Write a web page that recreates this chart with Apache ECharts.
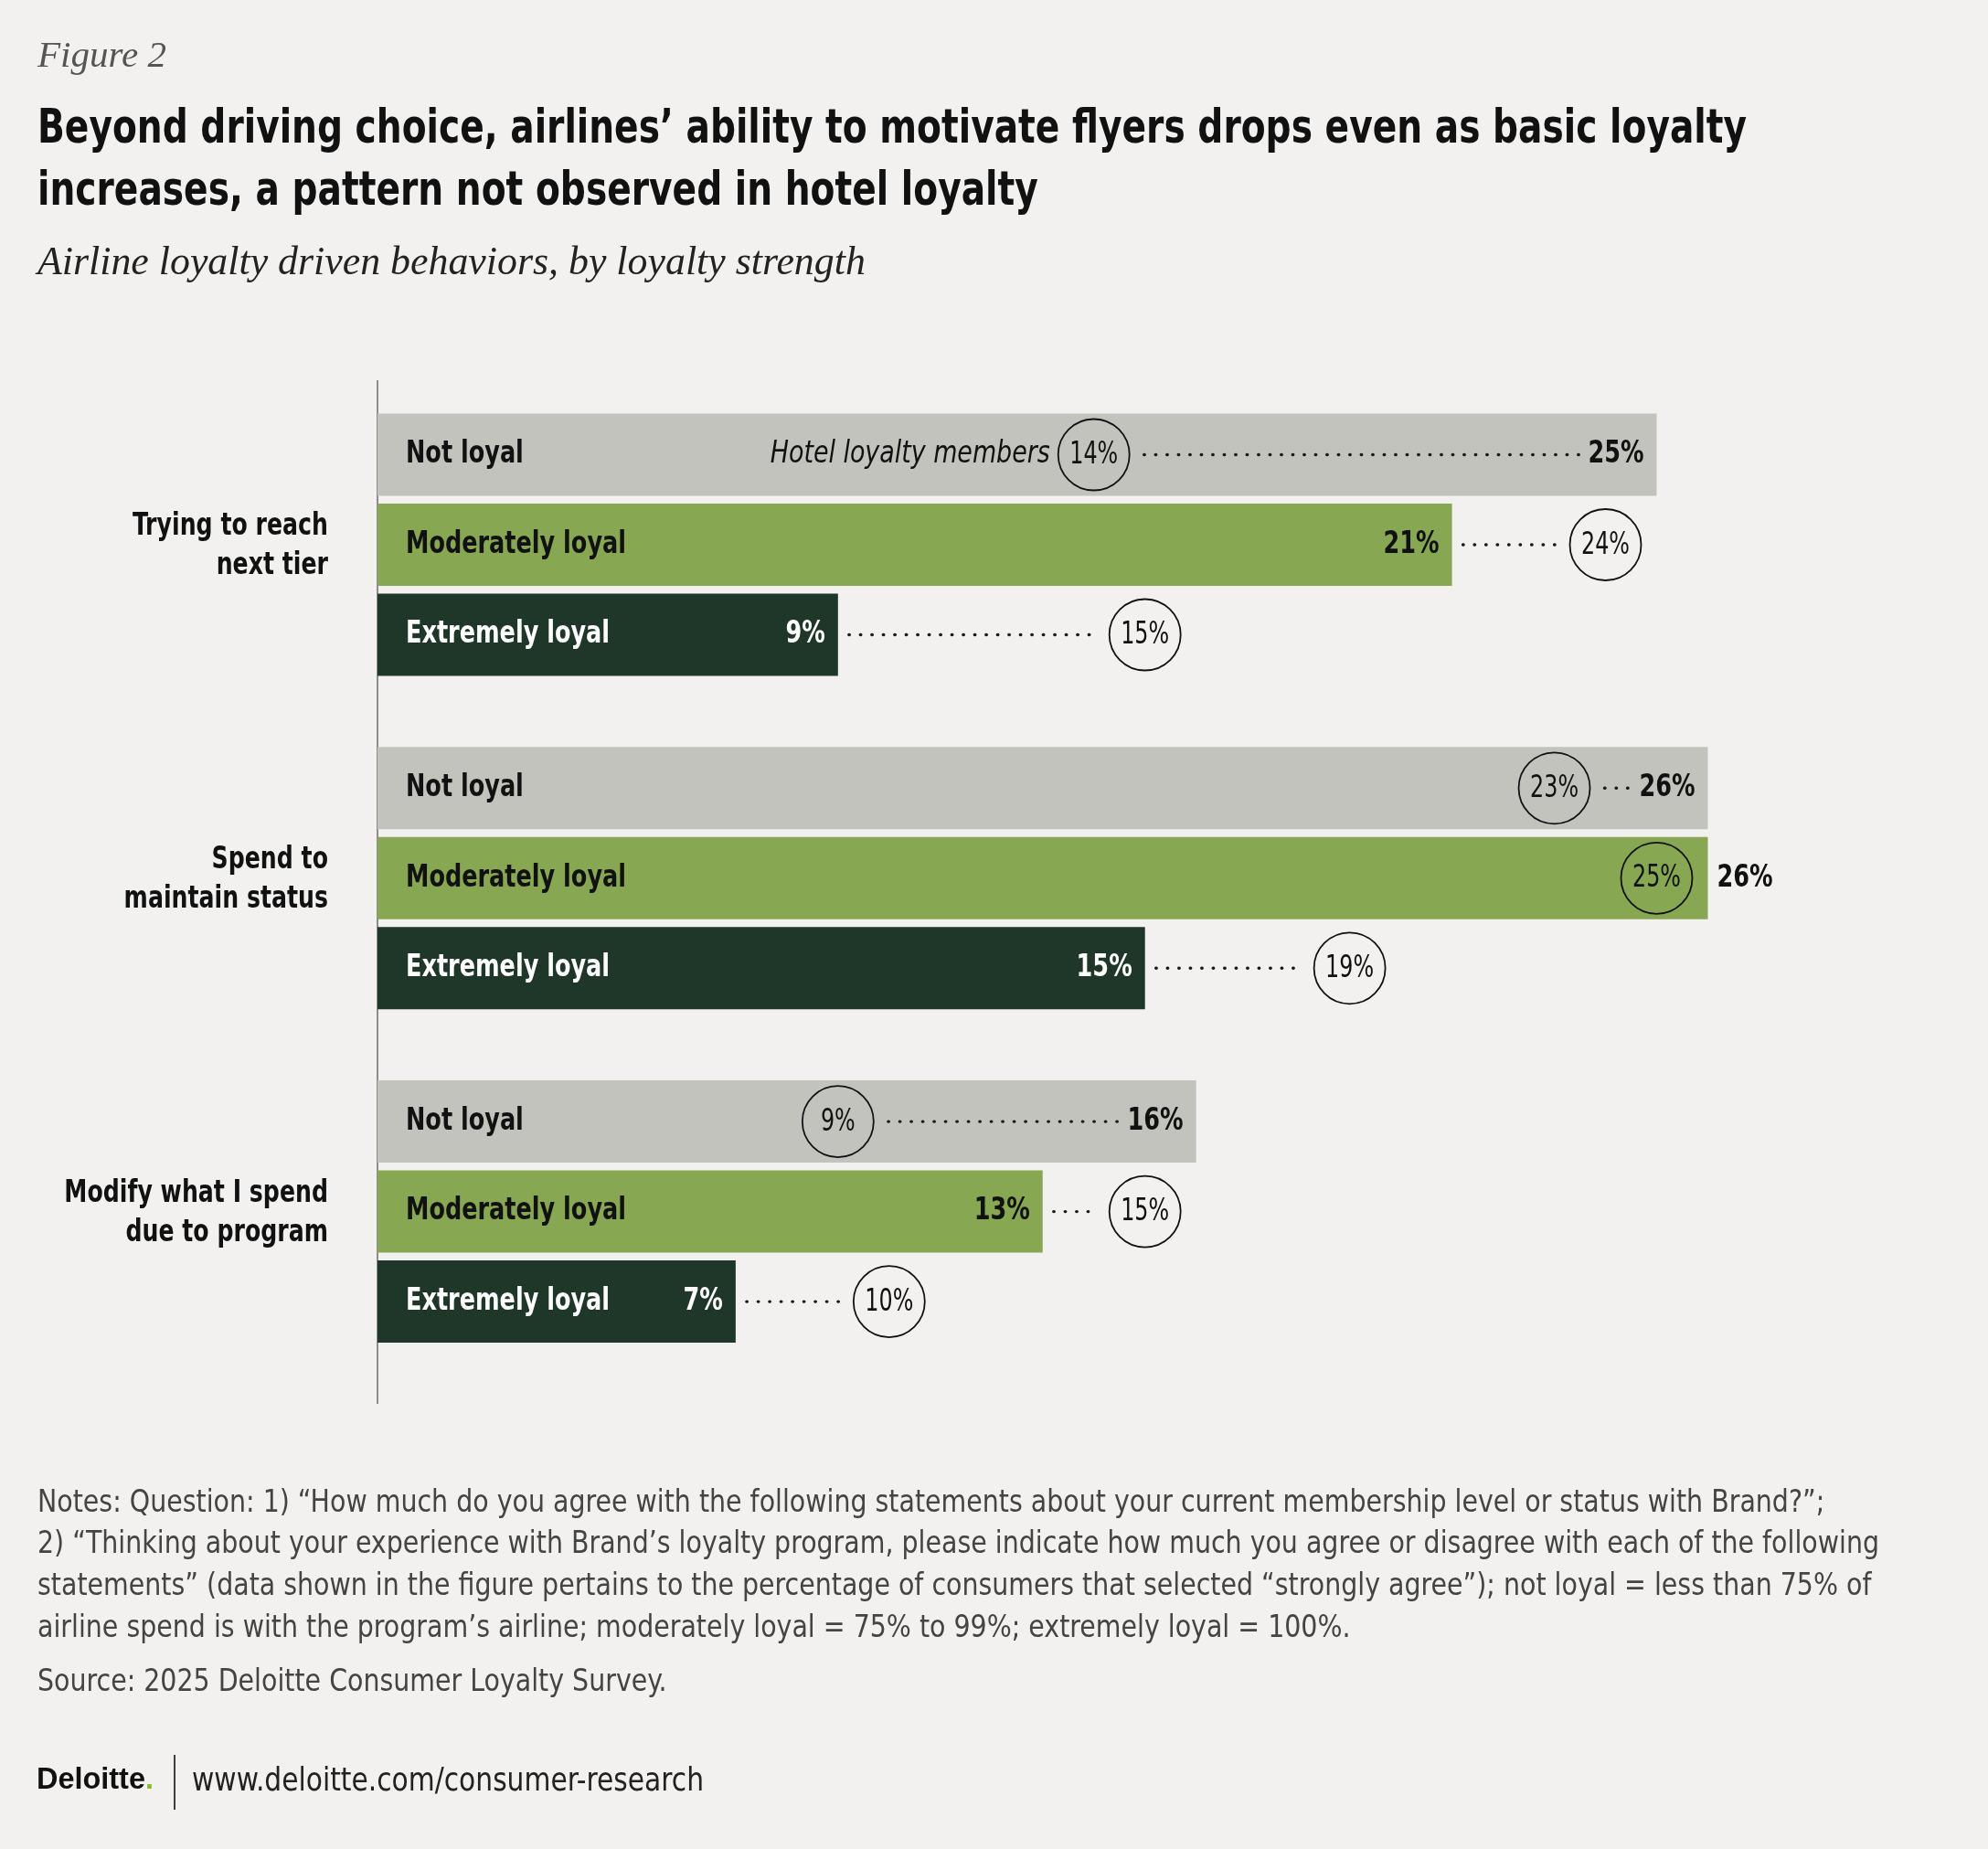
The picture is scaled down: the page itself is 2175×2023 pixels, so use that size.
<!DOCTYPE html>
<html><head><meta charset="utf-8">
<script src="https://cdn.jsdelivr.net/npm/echarts@6/dist/echarts.min.js"></script>
<style>html,body{margin:0;padding:0;background:#f2f1ef;}#c{width:2175px;height:2023px;}</style>
</head><body><div id="c"></div>
<script>
// ---------- DATA ----------
const categories = ['Trying to reach\nnext tier', 'Spend to\nmaintain status', 'Modify what I spend\ndue to program'];
const segmentNames = ['Not loyal', 'Moderately loyal', 'Extremely loyal'];
const airlineNotLoyal = [25, 26, 16];
const airlineModerately = [21, 26, 13];
const airlineExtremely = [9, 15, 7];
const hotelNotLoyal = [14, 23, 9];
const hotelModerately = [24, 25, 15];
const hotelExtremely = [15, 19, 10];
const hotelLabel = 'Hotel loyalty members';
const figureLabel = 'Figure 2';
const titleLines = ['Beyond driving choice, airlines\u2019 ability to motivate flyers drops even as basic loyalty', 'increases, a pattern not observed in hotel loyalty'];
const subtitle = 'Airline loyalty driven behaviors, by loyalty strength';
const notesLines = [
  'Notes: Question: 1) \u201CHow much do you agree with the following statements about your current membership level or status with Brand?\u201D;',
  '2) \u201CThinking about your experience with Brand\u2019s loyalty program, please indicate how much you agree or disagree with each of the following',
  'statements\u201D (data shown in the figure pertains to the percentage of consumers that selected \u201Cstrongly agree\u201D); not loyal = less than 75% of',
  'airline spend is with the program\u2019s airline; moderately loyal = 75% to 99%; extremely loyal = 100%.'
];
const sourceText = 'Source: 2025 Deloitte Consumer Loyalty Survey.';
const brandText = 'Deloitte';
const urlText = 'www.deloitte.com/consumer-research';

// ---------- FONTS ----------
const mctx = document.createElement('canvas').getContext('2d');
function hasFont(name) {
  const t = 'mmmmmmmmmmlliWWabcxyz0123456789';
  mctx.font = '50px monospace'; const a = mctx.measureText(t).width;
  mctx.font = '50px "' + name + '", monospace'; const b = mctx.measureText(t).width;
  mctx.font = '50px serif'; const c = mctx.measureText(t).width;
  mctx.font = '50px "' + name + '", serif'; const d = mctx.measureText(t).width;
  return a !== b || c !== d;
}
const NARROW = hasFont('Liberation Sans Narrow') ? 'Liberation Sans Narrow' : (hasFont('DejaVu Sans Condensed') ? 'DejaVu Sans Condensed' : 'Roboto');
const SERIF = hasFont('Liberation Serif') ? 'Liberation Serif' : 'DejaVu Serif';
const SANS = hasFont('Liberation Sans') ? 'Liberation Sans' : 'DejaVu Sans';
const CAP = 0.73; // cap-height ratio of the sans fonts
function textW(text, style, weight, size, family) {
  mctx.font = style + ' ' + weight + ' ' + size + 'px "' + family + '"';
  return mctx.measureText(text).width;
}
function fit(text, style, weight, family, target) {
  return 100 * target / textW(text, style, weight, 100, family);
}
// font size from wanted cap height, horizontal squeeze from wanted width
function squeeze(text, style, weight, family, capH, width) {
  const size = capH / CAP;
  const w = textW(text, style, weight, size, family);
  return { size: size, sx: Math.min(1, width / w) };
}
const figSize = fit(figureLabel, 'italic', 'normal', SERIF, 141);
const titleFit = squeeze(titleLines[0], 'normal', 'bold', NARROW, 38, 1870);
const subSize = fit(subtitle, 'italic', 'normal', SERIF, 906);
const catFit = squeeze('Trying to reach', 'normal', 'bold', NARROW, 24.5, 214);
const segFit = squeeze('Moderately loyal', 'normal', 'bold', NARROW, 25, 241);
const circFit = squeeze('23%', 'normal', 'normal', NARROW, 24, 53);
const hotelFit = squeeze(hotelLabel, 'italic', 'normal', NARROW, 25, 306);
const notesFit = squeeze(notesLines[1], 'normal', 'normal', NARROW, 24.5, 2015);
const brandSize = fit('Deloitte.', 'normal', 'bold', SANS, 128);
const urlFit = squeeze(urlText, 'normal', 'normal', NARROW, 26, 560);

// ---------- LAYOUT ----------
const GRID_LEFT = 413, GRID_TOP = 413.6, GRID_H = 1094.4, X_MAX = 30, PX_PER = 55.98;
const GRID_W = X_MAX * PX_PER;
const BAR_W = 90, BAR_GAP = 8.5;
const R = 39, DOT_GAP_CIRCLE = 16, DOT_GAP_BAR = 12, DOT_GAP_LABEL = 10, LABEL_DIST = 14, CAT_MARGIN = 54;
const barColors = ['#c3c3bd', '#87a752', '#1e3728'];
const textColors = ['#111111', '#111111', '#ffffff'];
const airline = [airlineNotLoyal, airlineModerately, airlineExtremely];
const hotel = [hotelNotLoyal, hotelModerately, hotelExtremely];

function barSeries(seg) {
  return {
    type: 'bar', name: segmentNames[seg], z: 2,
    barWidth: BAR_W, barGap: (BAR_GAP / BAR_W * 100) + '%',
    itemStyle: { color: barColors[seg] },
    label: { show: false },
    data: airline[seg]
  };
}

function boldText(text, x, y, align, fill) {
  return { type: 'text', x: x, y: y, scaleX: segFit.sx,
    style: { text: text, x: 0, y: 0, align: align, verticalAlign: 'middle',
      fontFamily: NARROW, fontSize: segFit.size, fontWeight: 'bold', fill: fill } };
}

function customSeries(seg) {
  const off = (seg - 1) * (BAR_W + BAR_GAP);
  return {
    type: 'custom', name: 'Hotel ' + segmentNames[seg], z: 5, clip: false, silent: true,
    data: hotel[seg].map(function (h, i) { return [h, i, airline[seg][i]]; }),
    encode: { x: 0, y: 1 },
    renderItem: function (params, api) {
      const hv = api.value(0), ci = api.value(1), av = api.value(2);
      const p = api.coord([hv, ci]);
      const cx = p[0], cy = p[1] + off;
      const bx = api.coord([av, ci])[0];
      const x0 = api.coord([0, ci])[0];
      const lw = textW(av + '%', 'normal', 'bold', segFit.size, NARROW) * segFit.sx;
      const outside = hv <= av && (bx - cx) < R + lw + LABEL_DIST + 20;
      const children = [];
      let x1, x2;
      if (hv > av) { x1 = bx + DOT_GAP_BAR; x2 = cx - R - DOT_GAP_CIRCLE; }
      else { x1 = cx + R + DOT_GAP_CIRCLE; x2 = bx - LABEL_DIST - lw - DOT_GAP_LABEL; }
      if (!outside && x2 - x1 > 6) {
        children.push({ type: 'line', shape: { x1: x1, y1: cy, x2: x2, y2: cy },
          style: { stroke: '#1a1a1a', lineWidth: 3.4, lineDash: [0.5, 12], lineCap: 'round' } });
      }
      children.push({ type: 'circle', shape: { cx: cx, cy: cy, r: R },
        style: { fill: 'rgba(0,0,0,0)', stroke: '#111111', lineWidth: 1.8 } });
      children.push({ type: 'text', x: cx, y: cy + 1, scaleX: circFit.sx,
        style: { text: hv + '%', x: 0, y: 0, align: 'center', verticalAlign: 'middle',
          fontFamily: NARROW, fontSize: circFit.size, fontWeight: 'normal', fill: '#111111' } });
      // segment name inside bar
      children.push(boldText(segmentNames[seg], x0 + 31, cy, 'left', textColors[seg]));
      // airline value label
      if (outside) children.push(boldText(av + '%', bx + 10, cy, 'left', '#111111'));
      else children.push(boldText(av + '%', bx - LABEL_DIST, cy, 'right', textColors[seg]));
      // category label (drawn once per category, centred on the category band)
      if (seg === 1) {
        children.push({ type: 'text', x: x0 - CAT_MARGIN, y: p[1] + 2, scaleX: catFit.sx,
          style: { text: categories[ci], x: 0, y: 0, align: 'right', verticalAlign: 'middle', lineHeight: 43,
            fontFamily: NARROW, fontSize: catFit.size, fontWeight: 'bold', fill: '#111111' } });
      }
      if (seg === 0 && params.dataIndex === 0) {
        children.push({ type: 'text', x: cx - R - 9, y: cy, scaleX: hotelFit.sx,
          style: { text: hotelLabel, x: 0, y: 0, align: 'right', verticalAlign: 'middle',
            fontFamily: NARROW, fontSize: hotelFit.size, fontStyle: 'italic', fill: '#111111' } });
      }
      return { type: 'group', children: children };
    }
  };
}

function txt(text, x, y, size, family, opts, sx) {
  opts = opts || {};
  return { type: 'text', x: x, y: y, scaleX: sx || 1, silent: true, style: Object.assign({
    text: text, x: 0, y: 0, fontSize: size, fontFamily: family, fill: '#111', align: 'left', verticalAlign: 'middle'
  }, opts) };
}

const graphics = [
  txt(figureLabel, 41, 62, figSize, SERIF, { fontStyle: 'italic', fill: '#555555' }),
  txt(titleLines[0], 41, 142, titleFit.size, NARROW, { fontWeight: 'bold', fill: '#111111' }, titleFit.sx),
  txt(titleLines[1], 41, 210, titleFit.size, NARROW, { fontWeight: 'bold', fill: '#111111' }, titleFit.sx),
  txt(subtitle, 41, 288, subSize, SERIF, { fontStyle: 'italic', fill: '#222222' }),
  { type: 'line', silent: true, shape: { x1: 413, y1: 416, x2: 413, y2: 1536 }, style: { stroke: '#8c8c8c', lineWidth: 2 } },
  txt(sourceText, 41, 1841, notesFit.size, NARROW, { fill: '#444444' }, notesFit.sx),
  { type: 'text', x: 40, y: 1948, silent: true, style: { text: '{b|' + brandText + '}{d|.}', verticalAlign: 'middle', align: 'left',
      rich: { b: { fontFamily: SANS, fontWeight: 'bold', fontSize: brandSize, fill: '#111111' }, d: { fontFamily: SANS, fontWeight: 'bold', fontSize: brandSize, fill: '#86bc25' } } } },
  { type: 'line', silent: true, shape: { x1: 191, y1: 1920, x2: 191, y2: 1980 }, style: { stroke: '#111111', lineWidth: 1.6 } },
  txt(urlText, 210, 1950, urlFit.size, NARROW, { fill: '#222222' }, urlFit.sx)
];
notesLines.forEach(function (l, i) {
  graphics.push(txt(l, 41, 1645 + i * 45.7, notesFit.size, NARROW, { fill: '#444444' }, notesFit.sx));
});

const chart = echarts.init(document.getElementById('c'), null, { renderer: 'canvas' });
chart.setOption({
  backgroundColor: '#f2f1ef',
  animation: false,
  grid: { left: GRID_LEFT, top: GRID_TOP, width: GRID_W, height: GRID_H, containLabel: false, outerBoundsMode: 'none' },
  xAxis: { type: 'value', min: 0, max: X_MAX, show: false, splitLine: { show: false } },
  yAxis: {
    type: 'category', data: categories, inverse: true,
    axisLine: { show: false }, axisTick: { show: false }, splitLine: { show: false },
    axisLabel: { show: false }
  },
  series: [barSeries(0), barSeries(1), barSeries(2), customSeries(0), customSeries(1), customSeries(2)],
  graphic: graphics
});
</script></body></html>
